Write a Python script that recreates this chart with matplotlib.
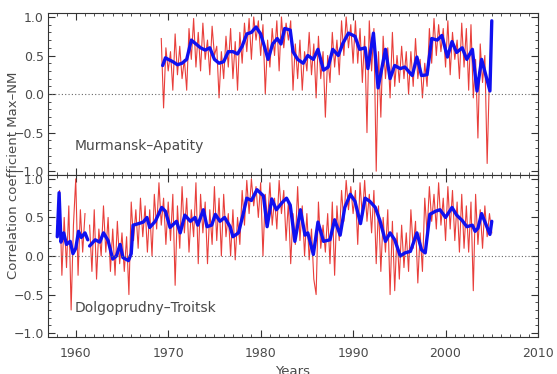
import numpy as np
import matplotlib.pyplot as plt
from matplotlib.ticker import MultipleLocator

plt.rcParams['font.family'] = ['DejaVu Sans']

# ---- Murmansk-Apatity (upper panel) ----
# red: correlation values, quarterly, starting 1969.25 (one row per year)
red_top_start = 1969.25
red_top = [
    0.72, -0.18, 0.60, 0.30,
    0.55, 0.05, 0.78, 0.25,
    0.62, 0.20, 0.45, 0.05,
    0.85, 0.45, 0.98, 0.35,
    0.80, 0.30, 0.92, 0.45,
    0.70, 0.25, 0.88, 0.50,
    0.62, -0.05, 0.55, 0.20,
    0.75, 0.35, 0.85, 0.20,
    0.68, 0.05, 0.80, 0.40,
    0.92, 0.55, 0.98, 0.45,
    1.00, 0.70, 0.95, 0.50,
    0.90, 0.00, 0.70, 0.35,
    0.85, 0.50, 0.95, 0.30,
    1.00, 0.60, 0.92, 0.70,
    0.95, 0.05, 0.65, 0.20,
    0.70, 0.05, 0.55, 0.30,
    0.80, 0.25, 0.65, -0.05,
    0.75, 0.20, 0.55, -0.30,
    0.50, 0.15, 0.80, 0.35,
    0.70, 0.25, 0.95, 0.50,
    1.00, 0.60, 0.90, 0.40,
    0.95, 0.40, 0.85, 0.15,
    0.75, -0.50, 0.95, 0.30,
    0.85, -1.00, 0.55, -0.30,
    0.75, 0.20, 0.60, -0.05,
    0.80, 0.10, 0.50, 0.15,
    0.62, 0.20, 0.55, 0.00,
    0.55, 0.10, 0.72, 0.20,
    0.45, -0.05, 0.40, 0.10,
    0.85, 0.40, 0.98, 0.50,
    0.90, 0.55, 0.85, 0.35,
    0.95, 0.25, 0.80, 0.45,
    0.70, 0.20, 0.92, 0.35,
    0.85, 0.05, 0.90, -0.05,
    0.45, -0.57, 0.65, 0.15,
    0.50, -0.90, 0.25, 0.95,
]

# blue: running mean
blue_top_years = [
    1969.4, 1969.7, 1970.0, 1970.5, 1971.0, 1971.5, 1972.0, 1972.5, 1973.0, 1973.5,
    1974.0, 1974.5, 1975.0, 1975.5, 1976.0, 1976.5, 1977.0, 1977.5, 1978.0, 1978.5,
    1979.0, 1979.5, 1980.0, 1980.4, 1980.8, 1981.3, 1981.8, 1982.2, 1982.6, 1983.2,
    1983.5, 1984.0, 1984.6, 1985.1, 1985.7, 1986.2, 1986.8, 1987.3, 1987.8, 1988.4,
    1988.9, 1989.5, 1990.2, 1990.7, 1991.3, 1991.6, 1992.2, 1992.7, 1993.5, 1994.0,
    1994.5, 1995.1, 1995.6, 1996.4, 1996.9, 1997.4, 1998.0, 1998.5, 1999.1, 1999.6,
    2000.2, 2000.7, 2001.2, 2001.8, 2002.3, 2002.9, 2003.4, 2003.9, 2004.3, 2004.8,
    2005.0,
]
blue_top = [
    0.37, 0.47, 0.45, 0.42, 0.38, 0.40, 0.45, 0.70, 0.65, 0.60,
    0.57, 0.60, 0.45, 0.40, 0.42, 0.55, 0.55, 0.52, 0.62, 0.78,
    0.80, 0.87, 0.78, 0.62, 0.45, 0.65, 0.72, 0.65, 0.85, 0.83,
    0.55, 0.45, 0.40, 0.50, 0.45, 0.58, 0.31, 0.35, 0.58, 0.50,
    0.66, 0.79, 0.75, 0.58, 0.60, 0.33, 0.79, 0.08, 0.58, 0.20,
    0.37, 0.33, 0.35, 0.24, 0.48, 0.24, 0.25, 0.72, 0.70, 0.76,
    0.48, 0.68, 0.54, 0.60, 0.45, 0.58, 0.04, 0.45, 0.27, 0.04,
    0.95,
]

# ---- Dolgoprudny-Troitsk (lower panel) ----
red_bot_start = 1958.0
red_bot = [
    0.45, 0.85, -0.25, 0.50,
    -0.15, 0.65, -0.70, 0.40,
    1.00, -0.25, 0.60, 0.05,
    0.55, np.nan, 0.40, -0.20,
    0.60, -0.30, 0.35, 0.00,
    0.65, 0.05, 0.50, -0.20,
    0.35, -0.25, 0.45, -0.10,
    0.30, -0.20, 0.25, -0.50,
    0.70, 0.20, 0.60, 0.10,
    0.75, 0.25, 0.65, 0.05,
    0.60, 0.00, 0.80, 0.35,
    0.95, 0.40, 0.75, 0.15,
    0.70, 0.20, 0.80, -0.38,
    0.65, 0.10, 0.90, 0.30,
    0.75, 0.05, 0.60, 0.25,
    0.95, -0.10, 0.80, 0.30,
    0.70, -0.10, 0.60, 0.15,
    0.90, 0.20, 0.75, 0.00,
    0.80, 0.25, 0.55, 0.00,
    0.60, -0.05, 0.50, 0.15,
    0.85, 0.40, 0.98, 0.55,
    1.00, 0.65, 0.90, 0.50,
    0.95, 0.00, 0.80, 0.45,
    0.95, 0.40, 0.75, 0.35,
    0.98, 0.55, 0.85, 0.20,
    0.70, -0.10, 0.55, 0.15,
    0.90, 0.20, 0.65, 0.00,
    0.55, -0.05, 0.35, -0.30,
    -0.50, 0.70, 0.10, 0.40,
    0.05, 0.55, -0.10, 0.70,
    -0.25, 0.65, 0.20, 0.85,
    0.45, 0.98, 0.60, 0.90,
    0.55, 0.85, 0.15, 0.95,
    0.50, 0.98, 0.45, 0.80,
    0.30, 0.85, -0.10, 0.65,
    -0.20, 0.50, 0.05, 0.60,
    -0.50, 0.45, -0.45, 0.30,
    -0.30, 0.40, -0.15, 0.30,
    -0.20, 0.60, 0.10, 0.45,
    -0.35, 0.30, -0.20, 0.75,
    0.30, 0.90, 0.45, 0.80,
    0.35, 0.95, 0.40, 0.75,
    0.20, 0.90, 0.35, 0.85,
    0.20, 0.70, 0.05, 0.80,
    0.10, 0.65, 0.05, 0.70,
    -0.45, 0.80, 0.15, 0.60,
    0.10, 0.65, 0.25, 0.55,
    0.30,
]

blue_bot_years = [
    1958.0, 1958.2, 1958.4, 1958.7, 1959.0, 1959.4, 1959.7, 1960.0, 1960.3, 1960.6,
    1961.0, 1961.3, 1961.4, 1961.5, 1962.1, 1962.6, 1963.0, 1963.5, 1964.0, 1964.4,
    1964.8, 1965.1, 1965.7, 1966.0, 1966.2, 1966.8, 1967.3, 1967.7, 1968.0, 1968.6,
    1969.3, 1969.7, 1970.2, 1970.9, 1971.3, 1971.8, 1972.4, 1972.9, 1973.2, 1973.8,
    1974.2, 1974.7, 1975.1, 1975.6, 1976.1, 1976.7, 1977.0, 1977.6, 1978.1, 1978.5,
    1979.0, 1979.6, 1980.3, 1980.7, 1981.2, 1981.7, 1982.3, 1982.8, 1983.2, 1983.7,
    1984.3, 1984.8, 1985.1, 1985.7, 1986.2, 1986.8, 1987.5, 1988.0, 1988.6, 1989.1,
    1989.7, 1990.2, 1990.8, 1991.3, 1991.8, 1992.4, 1992.9, 1993.5, 1994.0, 1994.5,
    1995.1, 1995.6, 1996.2, 1996.9, 1997.4, 1997.8, 1998.3, 1998.9, 1999.4, 2000.0,
    2000.7, 2001.2, 2001.8, 2002.3, 2002.9, 2003.2, 2003.5, 2003.9, 2004.4, 2004.8,
    2005.0,
]
blue_bot = [
    0.25, 0.82, 0.18, 0.30, 0.15, 0.19, 0.03, 0.10, 0.32, 0.24,
    0.30, 0.21, np.nan, 0.13, 0.21, 0.18, 0.30, 0.20, -0.04, 0.00,
    0.15, -0.02, -0.06, 0.03, 0.40, 0.42, 0.44, 0.50, 0.37, 0.45,
    0.63, 0.58, 0.37, 0.45, 0.30, 0.53, 0.45, 0.50, 0.40, 0.60,
    0.38, 0.40, 0.54, 0.45, 0.50, 0.38, 0.25, 0.30, 0.54, 0.75,
    0.72, 0.86, 0.78, 0.38, 0.74, 0.60, 0.69, 0.75, 0.66, 0.19,
    0.60, 0.27, 0.30, 0.02, 0.44, 0.19, 0.21, 0.47, 0.27, 0.63,
    0.80, 0.71, 0.42, 0.75, 0.71, 0.63, 0.46, 0.19, 0.30, 0.21,
    0.00, 0.04, 0.06, 0.30, 0.08, 0.04, 0.54, 0.58, 0.60, 0.50,
    0.63, 0.53, 0.46, 0.38, 0.40, 0.32, 0.36, 0.55, 0.40, 0.28,
    0.45,
]

assert len(blue_top_years) == len(blue_top)
assert len(blue_bot_years) == len(blue_bot)

panels = [
    (red_top_start, red_top, blue_top_years, blue_top, 'Murmansk–Apatity'),
    (red_bot_start, red_bot, blue_bot_years, blue_bot, 'Dolgoprudny–Troitsk'),
]

text_col = '#4a4a4a'
fig = plt.figure(figsize=(5.57, 3.74), dpi=100)
ax1 = fig.add_axes([0.0862, 0.532, 0.8797, 0.433])
ax2 = fig.add_axes([0.0862, 0.099, 0.8797, 0.433], sharex=ax1)

for ax, (r0, red, by, bv, name) in zip([ax1, ax2], panels):
    ry = r0 + 0.25 * np.arange(len(red))
    ax.plot(ry, red, color='#e62a26', lw=0.8, alpha=0.9)
    ax.plot(by, bv, color='#1010f0', lw=2.4, solid_capstyle='round')
    ax.axhline(0, color='#666666', lw=0.8, ls=(0, (1, 2)))
    ax.set_xlim(1957, 2010)
    ax.set_ylim(-1.05, 1.05)
    ax.set_yticks([-1.0, -0.5, 0.0, 0.5, 1.0])
    ax.yaxis.set_minor_locator(MultipleLocator(0.1))
    ax.xaxis.set_major_locator(MultipleLocator(10))
    ax.xaxis.set_minor_locator(MultipleLocator(1))
    ax.tick_params(which='both', direction='in', top=True, right=True,
                   labelsize=9, labelcolor=text_col, color='#333333', pad=3)
    ax.tick_params(which='major', length=5, width=0.8)
    ax.tick_params(which='minor', length=2.5, width=0.6)
    for s in ax.spines.values():
        s.set_color('#333333')
        s.set_linewidth(0.8)
    ax.text(1959.9, -0.67, name, fontsize=10, color=text_col, va='center')

ax1.tick_params(labelbottom=False)
ax2.tick_params(axis='x', pad=7)

fig.text(0.025, 0.532, 'Correlation coefficient Max–NM', rotation=90,
         ha='center', va='center', fontsize=9.5, color=text_col)
fig.text(0.526, -0.012, 'Years', ha='center', va='bottom', fontsize=9.5,
         color=text_col)

fig.savefig('out.png', dpi=100)
